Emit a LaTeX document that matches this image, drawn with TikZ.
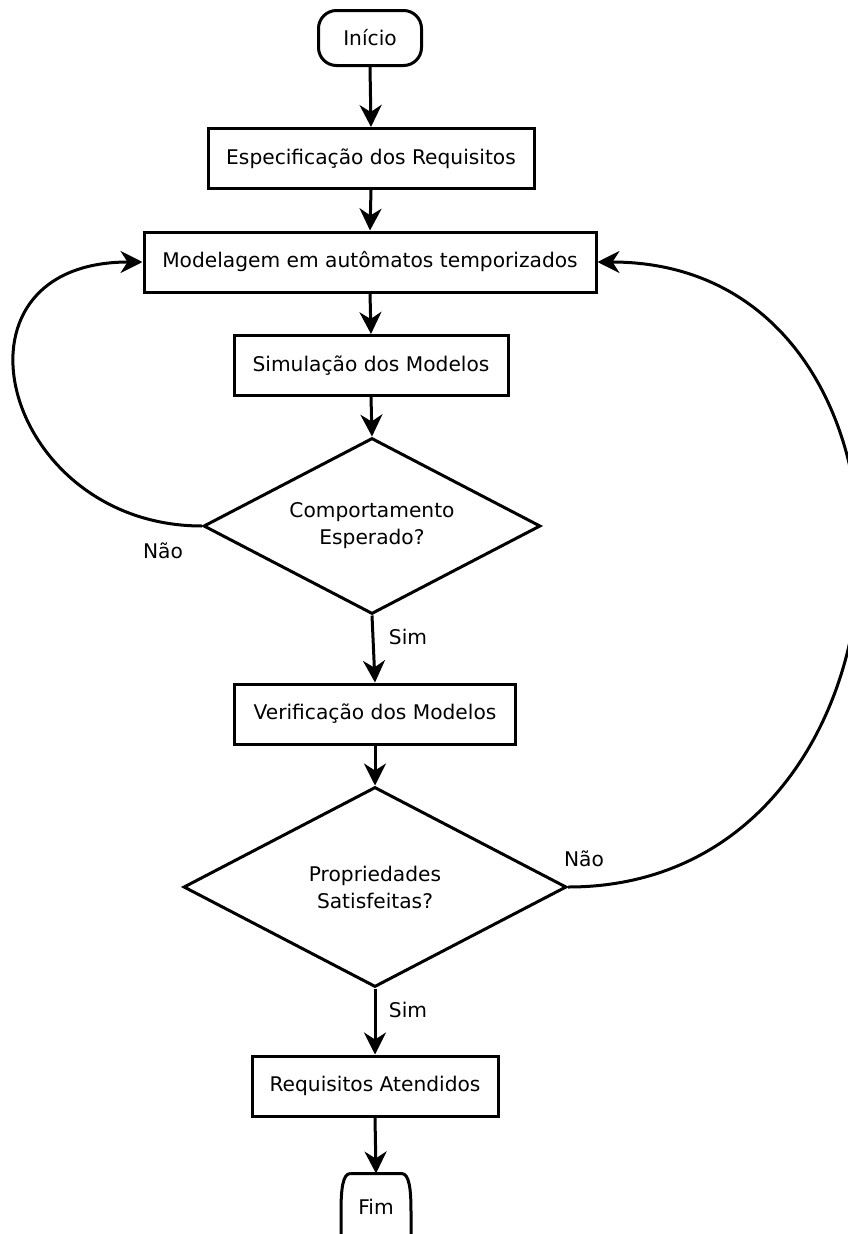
\documentclass[tikz,border=0pt]{standalone}
\usepackage{fontspec}
\setmainfont{DejaVu Sans}
\usetikzlibrary{arrows.meta,shapes.geometric}
\begin{document}
\begin{tikzpicture}[x=1pt,y=-1pt,
  line width=3pt,
  font=\fontsize{20.2}{27}\selectfont,
  box/.style={draw,rectangle,inner sep=0pt,minimum height=60pt},
  term/.style={draw,rectangle,rounded corners=18pt,inner sep=0pt},
  decision/.style={draw,diamond,aspect=1.915,inner sep=0pt,align=center},
  flow/.style={-{Stealth[length=22pt,width=22pt,inset=7pt]}},
  lbl/.style={inner sep=0pt}]
\useasboundingbox (0,0) rectangle (848,1234);
\clip (0,0) rectangle (848,1234);

% process nodes
\node[term,minimum width=103pt,minimum height=55pt] (inicio) at (370,38) {Início};
\node[box,minimum width=326pt] (espec) at (371,158.5) {Especificação dos Requisitos};
\node[box,minimum width=452pt] (model) at (370,262) {Modelagem em autômatos temporizados};
\node[box,minimum width=274pt] (simul) at (371,365.5) {Simulação dos Modelos};
\node[decision,minimum width=337pt,minimum height=176pt] (comp) at (372,526) {Comportamento\\Esperado?};
\node[box,minimum width=281pt] (verif) at (375,714) {Verificação dos Modelos};
\node[decision,minimum width=383pt,minimum height=200pt] (prop) at (375,887) {Propriedades\\Satisfeitas?};
\node[box,minimum width=246pt] (atend) at (375,1086) {Requisitos Atendidos};
\node[inner sep=0pt,minimum width=68pt,minimum height=64pt] (fim) at (376,1207) {Fim};
% end terminator, cut by the lower edge
\draw (fim.north west) ++(10,0) -- ([xshift=-10pt]fim.north east)
  .. controls +(8,0) and (411,1190) .. (411,1212) -- (411,1240)
  (fim.north west) ++(10,0) .. controls +(-8,0) and (341,1190) .. (341,1212) -- (341,1240);

% straight connectors
\draw[flow] (inicio.south) -- (espec.north);
\draw[flow] (espec.south) -- (model.north);
\draw[flow] (model.south) -- (simul.north);
\draw[flow] (simul.south) -- (comp.north);
\draw[flow] (comp.south) -- (verif.north);
\draw[flow] (verif.south) -- (prop.north);
\draw[flow] (prop.south) -- (atend.north);
\draw[flow] (atend.south) -- (fim.north);

% feedback loops
\draw[flow] (comp.west) .. controls +(-200,0) and +(-208,0) .. (model.west);
\draw[flow] (prop.east) .. controls +(370,0) and +(362,0) .. (model.east);

% branch labels
\node[lbl] (nao1) at (163,551) {Não};
\node[lbl] (sim1) at (408,637) {Sim};
\node[lbl] (nao2) at (584,859) {Não};
\node[lbl] (sim2) at (408,1010) {Sim};
\end{tikzpicture}
\end{document}
